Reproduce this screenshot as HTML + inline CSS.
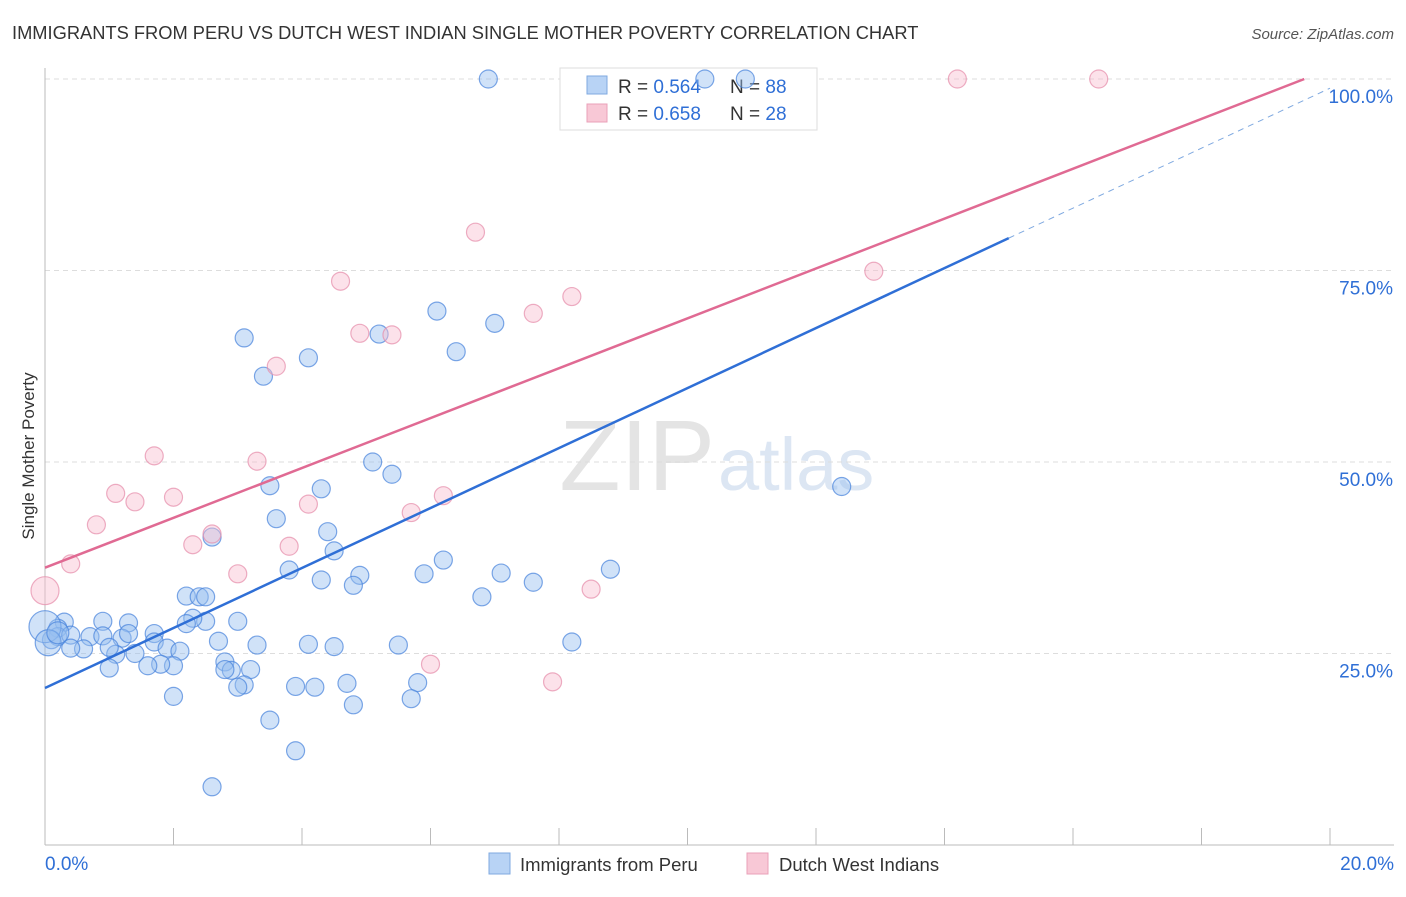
<!DOCTYPE html>
<html><head><meta charset="utf-8"><style>
body{margin:0;background:#fff;font-family:"Liberation Sans",sans-serif;}
svg text{font-family:"Liberation Sans",sans-serif;}
</style></head><body>
<svg id="chart" width="1406" height="892" viewBox="0 0 1406 892" xmlns="http://www.w3.org/2000/svg">
<text x="12" y="39" font-size="18.3" fill="#333">IMMIGRANTS FROM PERU VS DUTCH WEST INDIAN SINGLE MOTHER POVERTY CORRELATION CHART</text>
<text x="1394" y="39" font-size="15" fill="#555" text-anchor="end" font-style="italic">Source: ZipAtlas.com</text>
<text x="715" y="490" font-size="100" fill="#e4e4e4" text-anchor="end" font-family="Liberation Serif">ZIP</text>
<text x="718" y="490" font-size="74" fill="#dce6f3">atlas</text>
<g id="grid"></g>
<g id="axes"></g>
<g>
<rect x="560" y="68" width="257" height="62" fill="#fff" stroke="#ddd"/>
<rect x="587" y="76" width="20" height="18" fill="#b8d3f5" stroke="#7fa9e0"/>
<rect x="587" y="104" width="20" height="18" fill="#f8c8d6" stroke="#eaa0b8"/>
<text x="618" y="93" font-size="19" fill="#333">R = <tspan fill="#2f6fd6">0.564</tspan></text>
<text x="730" y="93" font-size="19" fill="#333">N = <tspan fill="#2f6fd6">88</tspan></text>
<text x="618" y="120" font-size="19" fill="#333">R = <tspan fill="#2f6fd6">0.658</tspan></text>
<text x="730" y="120" font-size="19" fill="#333">N = <tspan fill="#2f6fd6">28</tspan></text>
</g>
<g id="marks"></g>
<text transform="translate(34,456) rotate(-90)" font-size="17" fill="#333" text-anchor="middle">Single Mother Poverty</text>
<g>
<rect x="489" y="853" width="21" height="21" fill="#b8d3f5" stroke="#7fa9e0"/>
<text x="520" y="871" font-size="18.5" fill="#333">Immigrants from Peru</text>
<rect x="747" y="853" width="21" height="21" fill="#f8c8d6" stroke="#eaa0b8"/>
<text x="779" y="871" font-size="18.5" fill="#333">Dutch West Indians</text>
</g>
</svg>
<script>
const xTicks=[0,2,4,6,8,10,12,14,16,18,20];
const yTicks=[25,50,75,100];
const yTickLabels=["25.0%","50.0%","75.0%","100.0%"];
const peruX=[6.9,10.27,10.9,3.1,3.4,4.1,5.2,6.1,7.0,6.4,5.1,5.4,3.5,4.3,12.4,3.6,4.4,2.6,4.5,3.8,4.3,4.9,4.8,5.9,6.2,7.1,7.6,8.8,6.8,2.2,2.4,2.5,3.0,2.5,2.3,2.2,0.9,1.3,0.3,0.2,0.2,0.4,0.7,0.9,1.2,1.3,1.7,1.7,1.9,2.1,2.0,1.8,1.6,1.4,1.1,1.0,0.6,0.4,0.1,1.0,2.7,3.3,4.1,4.5,5.5,8.2,2.8,2.9,3.2,2.8,3.1,3.0,3.9,4.2,4.7,5.8,5.7,4.8,2.0,3.5,3.9,2.6,0.0,0.05,0.2];
const peruY=[100,100,100,66.2,61.2,63.6,66.7,69.7,68.1,64.4,50.0,48.4,46.9,46.5,46.8,42.6,40.9,40.2,38.4,35.9,34.6,35.2,33.9,35.4,37.2,35.5,34.3,36.0,32.4,32.5,32.4,32.4,29.2,29.2,29.6,28.9,29.2,29.0,29.1,28.3,27.2,27.4,27.2,27.3,27.0,27.6,27.6,26.5,25.7,25.3,23.4,23.6,23.4,25.0,24.9,25.8,25.6,25.7,26.8,23.1,26.6,26.1,26.2,25.9,26.1,26.5,23.9,22.8,22.9,22.9,20.9,20.6,20.7,20.6,21.1,21.2,19.1,18.3,19.4,16.3,12.3,7.6,28.5,26.4,27.7];
const peruR=[9,9,9,9,9,9,9,9,9,9,9,9,9,9,9,9,9,9,9,9,9,9,9,9,9,9,9,9,9,9,9,9,9,9,9,9,9,9,9,9,9,9,9,9,9,9,9,9,9,9,9,9,9,9,9,9,9,9,9,9,9,9,9,9,9,9,9,9,9,9,9,9,9,9,9,9,9,9,9,9,9,9,16,13,11];
const dutchX=[14.2,16.4,6.7,12.9,4.6,8.2,7.6,4.9,5.4,3.6,1.7,3.3,1.1,2.0,1.4,4.1,6.2,5.7,0.8,2.6,2.3,3.8,0.4,3.0,8.5,0.0,6.0,7.9];
const dutchY=[100,100,80.0,74.9,73.6,71.6,69.4,66.8,66.6,62.5,50.8,50.1,45.9,45.4,44.8,44.5,45.6,43.4,41.8,40.6,39.2,39.0,36.7,35.4,33.4,33.2,23.6,21.3];
const dutchR=[9,9,9,9,9,9,9,9,9,9,9,9,9,9,9,9,9,9,9,9,9,9,9,9,9,14,9,9];
const peruLine=[0,20.5,20,98.8];
const dutchLine=[0,36.2,19.6,100];
const NS="http://www.w3.org/2000/svg";
const sx=v=>45+v/20*1285, sy=v=>845-v/100*766;
function mk(tag,attrs,parent){const e=document.createElementNS(NS,tag);for(const k in attrs)e.setAttribute(k,attrs[k]);document.getElementById(parent).appendChild(e);return e;}
yTicks.forEach((t,i)=>{
 const g=mk('line',{x1:45,x2:1394,y1:sy(t),y2:sy(t),stroke:'#ddd','stroke-dasharray':'5,4'},'grid');
 
 
 const l=mk('text',{x:1393,y:sy(t)+24,'font-size':19,fill:'#2f6fd6','text-anchor':'end'},'axes');l.textContent=yTickLabels[i];
 
 
});
const ax=mk('line',{x1:45,x2:45,y1:68,y2:845,stroke:'#bbb'},'axes');


const bx=mk('line',{x1:45,x2:1394,y1:845,y2:845,stroke:'#bbb'},'axes');


xTicks.forEach(t=>{const tk=mk('line',{x1:sx(t),x2:sx(t),y1:828,y2:845,stroke:'#bbb'},'axes');
 
 });
[[0,'0.0%','start',45],[20,'20.0%','end',1394]].forEach(a=>{const t=mk('text',{x:a[3],y:870,'font-size':19,fill:'#2f6fd6','text-anchor':a[2]},'axes');t.textContent=a[1];
 
 });
peruX.forEach((x,i)=>{const c=mk('circle',{cx:sx(x),cy:sy(peruY[i]),r:peruR[i],fill:'rgba(150,190,240,0.45)',stroke:'rgba(70,130,220,0.7)','stroke-width':1.2},'marks');
 
 });
dutchX.forEach((x,i)=>{const c=mk('circle',{cx:sx(x),cy:sy(dutchY[i]),r:dutchR[i],fill:'rgba(248,190,208,0.45)',stroke:'rgba(230,140,170,0.7)','stroke-width':1.2},'marks');
 
 });
const px=15, py=peruLine[1]+(peruLine[3]-peruLine[1])*(px/peruLine[2]);
const l1=mk('line',{x1:sx(0),y1:sy(peruLine[1]),x2:sx(px),y2:sy(py),stroke:'#2f6fd6','stroke-width':2.5},'marks');


const l2=mk('line',{x1:sx(px),y1:sy(py),x2:sx(peruLine[2]),y2:sy(peruLine[3]),stroke:'#7fa9e0','stroke-width':1,'stroke-dasharray':'6,5'},'marks');


const l3=mk('line',{x1:sx(0),y1:sy(dutchLine[1]),x2:sx(dutchLine[2]),y2:sy(dutchLine[3]),stroke:'#e06a93','stroke-width':2.5},'marks');


</script>
</body></html>
